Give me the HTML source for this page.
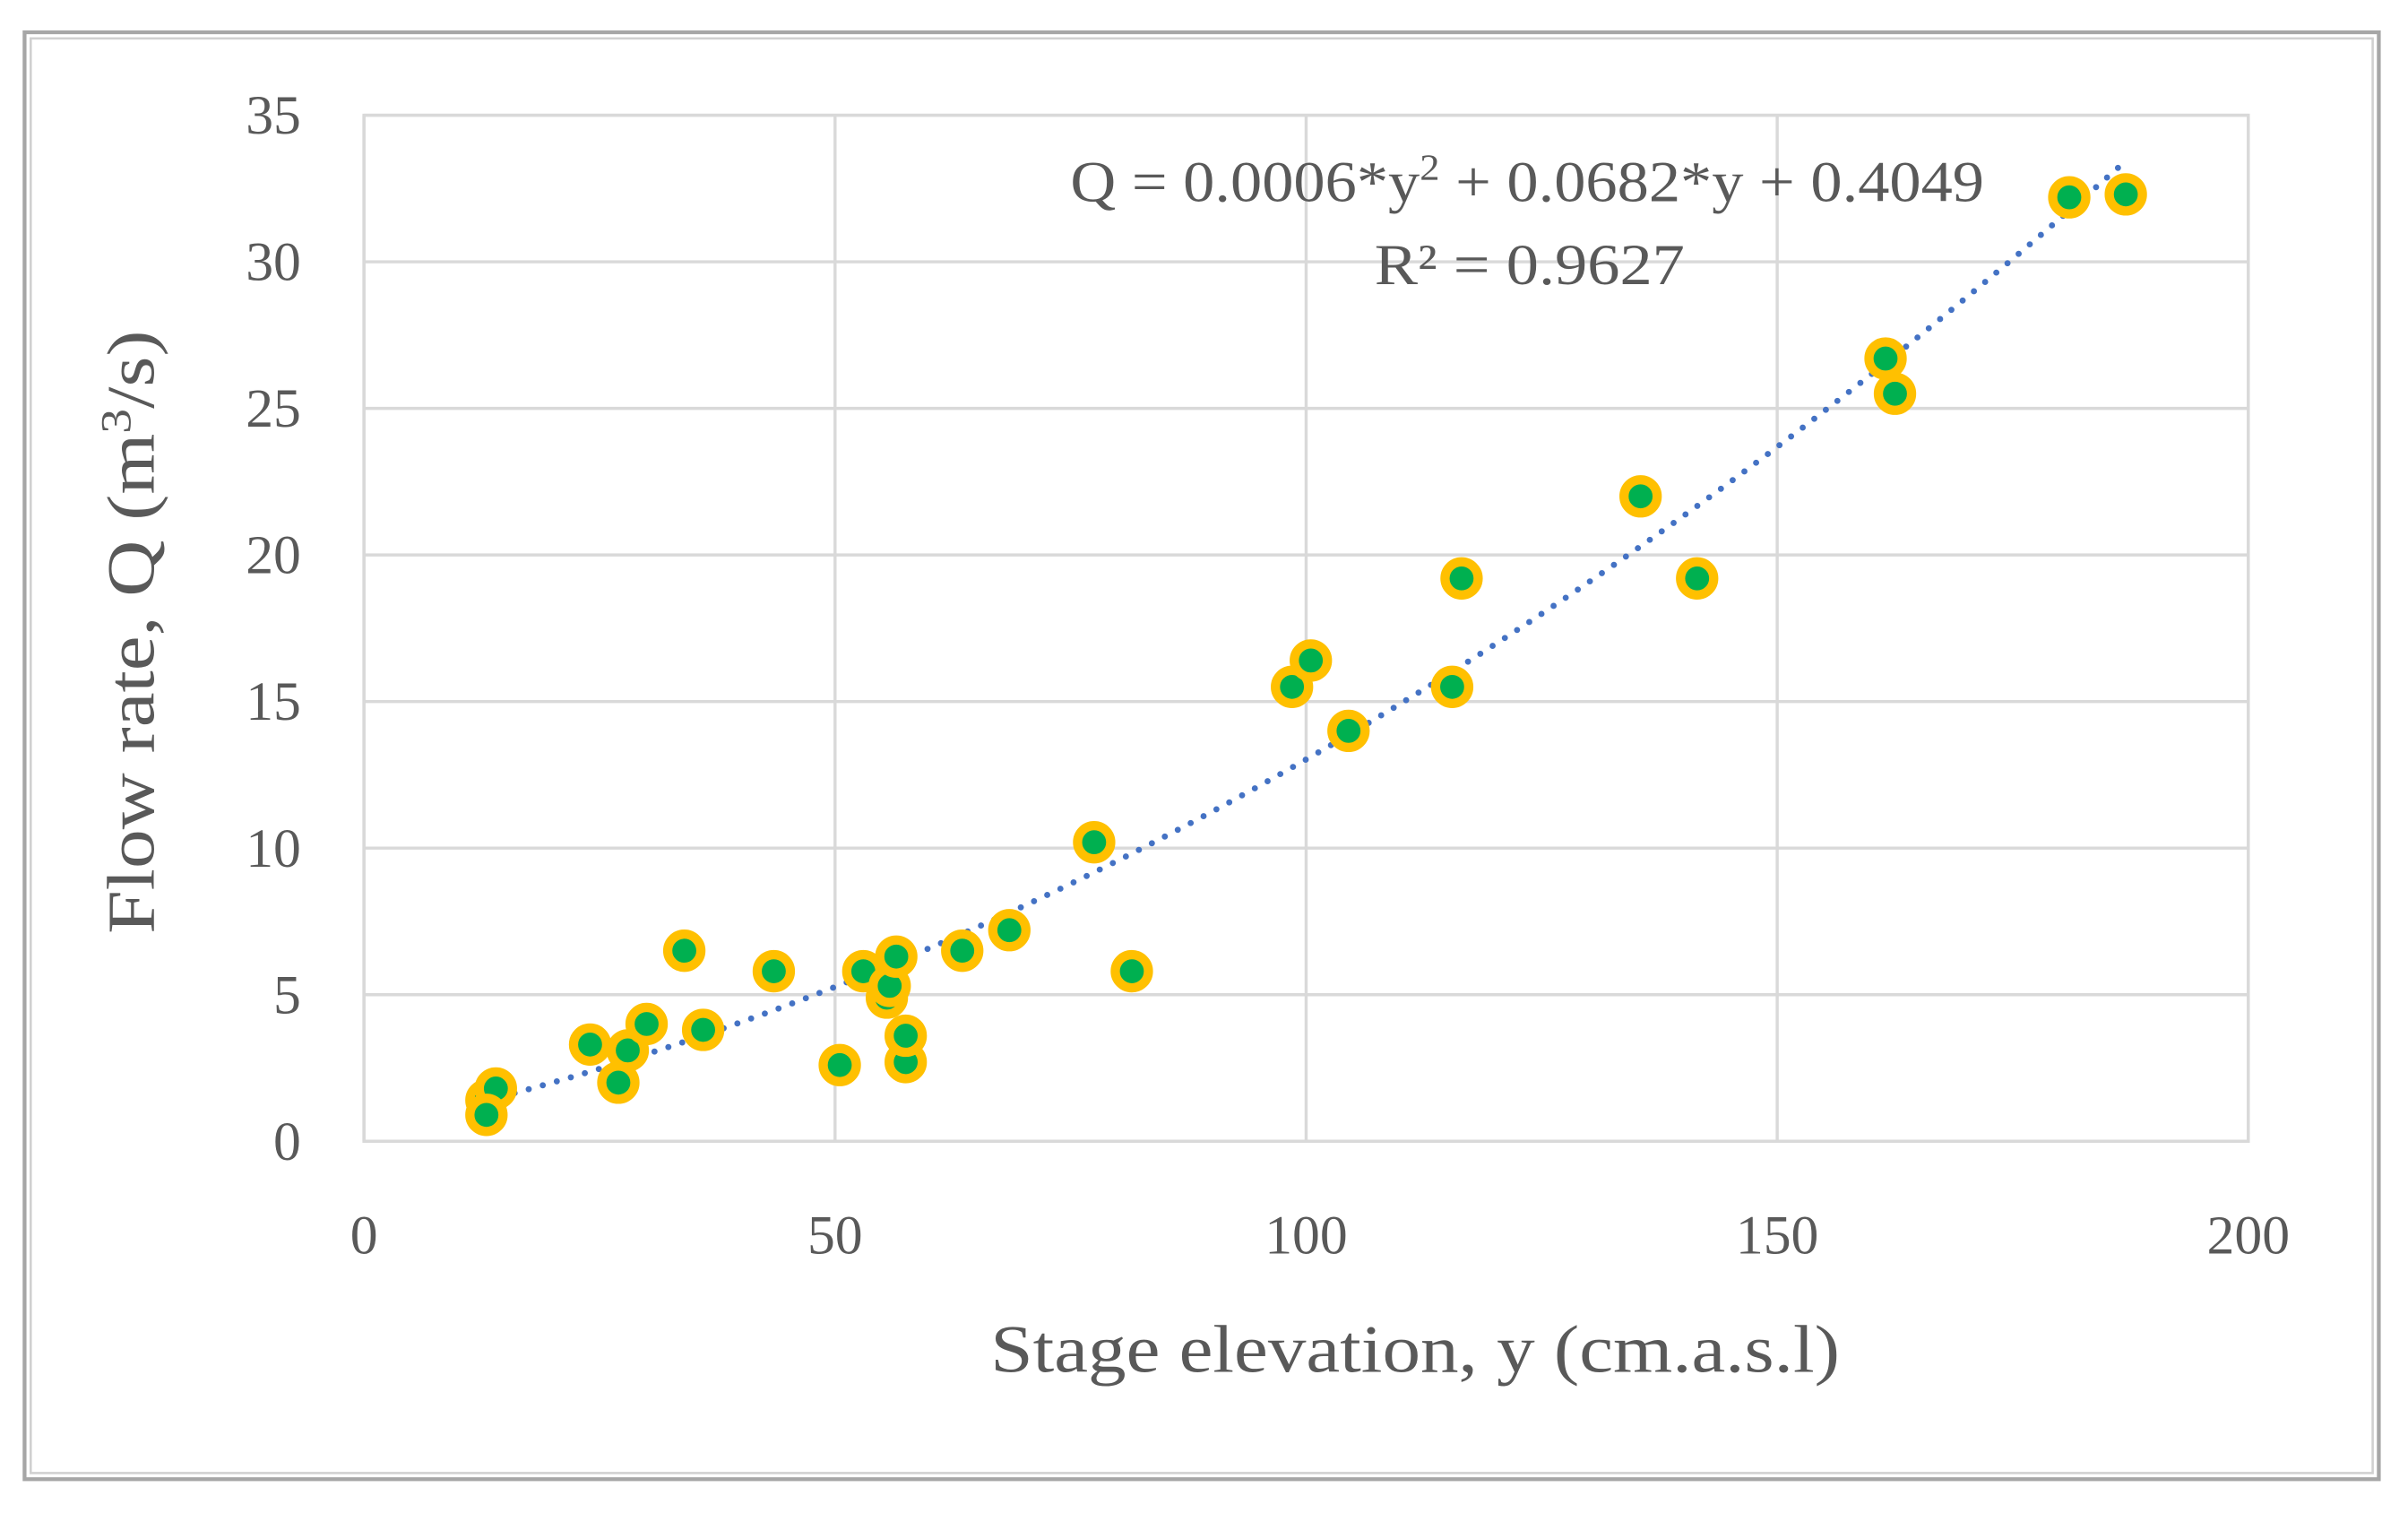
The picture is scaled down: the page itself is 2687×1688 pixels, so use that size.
<!DOCTYPE html>
<html><head><meta charset="utf-8"><style>
html,body{margin:0;padding:0;background:#fff;}
svg{display:block;}
text{font-family:"Liberation Serif","DejaVu Serif",serif;fill:#595959;}
</style></head><body>
<svg id="chart" width="2687" height="1688" viewBox="0 0 1568 985" xmlns="http://www.w3.org/2000/svg">
<rect x="0" y="0" width="1568" height="985" fill="#fff"/>
<rect x="16" y="21" width="1533" height="942" fill="none" stroke="#a6a6a6" stroke-width="2.5"/>
<rect x="20" y="25" width="1525" height="934" fill="none" stroke="#d0d0d0" stroke-width="1.5"/>
<g id="grid"></g>
<g id="ticks"></g>
<path id="trend" fill="none" stroke="#4472C4" stroke-width="4" stroke-linecap="round" stroke-dasharray="0 9.5"/>
<g id="pts"></g>
<text x="697" y="131" font-size="38" textLength="595" lengthAdjust="spacingAndGlyphs">Q = 0.0006*y<tspan font-size="24" dy="-14">2</tspan><tspan dy="14"> + 0.0682*y + 0.4049</tspan></text>
<text x="895" y="185" font-size="38" textLength="202" lengthAdjust="spacingAndGlyphs">R² = 0.9627</text>
<text x="645" y="893" font-size="44" textLength="553" lengthAdjust="spacingAndGlyphs">Stage elevation, y (cm.a.s.l)</text>
<text transform="translate(100,608) rotate(-90)" font-size="44" textLength="393" lengthAdjust="spacingAndGlyphs">Flow rate, Q  (m<tspan font-size="28" dy="-15">3</tspan><tspan dy="15">/s)</tspan></text>
</svg>
<script>
const xTicks=[0,50,100,150,200];
const yTicks=[0,5,10,15,20,25,30,35];
const stageY=[13,14,13,24,27,28,30,34,36,43.5,50.5,53,55.5,55.8,56.5,57.5,57.5,63.5,68.5,77.5,81.5,98.5,100.5,104.5,115.5,116.5,135.5,141.5,161.5,162.5,181,187];
const flowQ=[1.4,1.8,0.9,3.3,2,3.1,4,6.5,3.8,5.8,2.6,5.8,4.9,5.3,6.3,2.7,3.6,6.5,7.2,10.2,5.8,15.5,16.4,14,15.5,19.2,22,19.2,26.7,25.5,32.2,32.3];
const trendCoef=[0.00058,0.0682,0.4049];
const trendRange=[13,187];
const X0=237,X1=1464,Y0=743,Y1=75;
const sx=v=>X0+(v-0)/(200-0)*(X1-X0);
const sy=v=>Y0-(v-0)/(35-0)*(Y0-Y1);
const NS="http://www.w3.org/2000/svg";
const grid=document.getElementById('grid'),ticks=document.getElementById('ticks'),pts=document.getElementById('pts');
function mk(tag,attrs,parent){const e=document.createElementNS(NS,tag);for(const k in attrs)e.setAttribute(k,attrs[k]);parent.appendChild(e);return e;}
yTicks.forEach(t=>{
 const l=mk('line',{x1:X0,x2:X1,y1:sy(t),y2:sy(t),stroke:'#d9d9d9','stroke-width':2},grid);
 
 
 const tx=mk('text',{x:196,y:sy(t)+12,'font-size':36,'text-anchor':'end'},ticks);
 tx.textContent=t;
 
 
});
xTicks.forEach(t=>{
 const l=mk('line',{x1:sx(t),x2:sx(t),y1:Y1,y2:Y0,stroke:'#d9d9d9','stroke-width':2},grid);
 
 
 const tx=mk('text',{x:sx(t),y:816,'font-size':36,'text-anchor':'middle'},ticks);
 tx.textContent=t;
 
 
});
const border=mk('rect',{x:X0,y:Y1,width:X1-X0,height:Y0-Y1,fill:'none',stroke:'#d9d9d9','stroke-width':2},grid);


let d='';
for(let i=0;i<=200;i++){const v=trendRange[0]+(trendRange[1]-trendRange[0])*i/200;const q=trendCoef[0]*v*v+trendCoef[1]*v+trendCoef[2];d+=(i?'L':'M')+sx(v).toFixed(2)+' '+sy(q).toFixed(2);}
document.getElementById('trend').setAttribute('d',d);
stageY.forEach((v,i)=>{
 const c=mk('circle',{cx:sx(v),cy:sy(flowQ[i]),r:10.8,fill:'#00B050',stroke:'#FFC000','stroke-width':6},pts);
 
 
});
</script>
</body></html>
